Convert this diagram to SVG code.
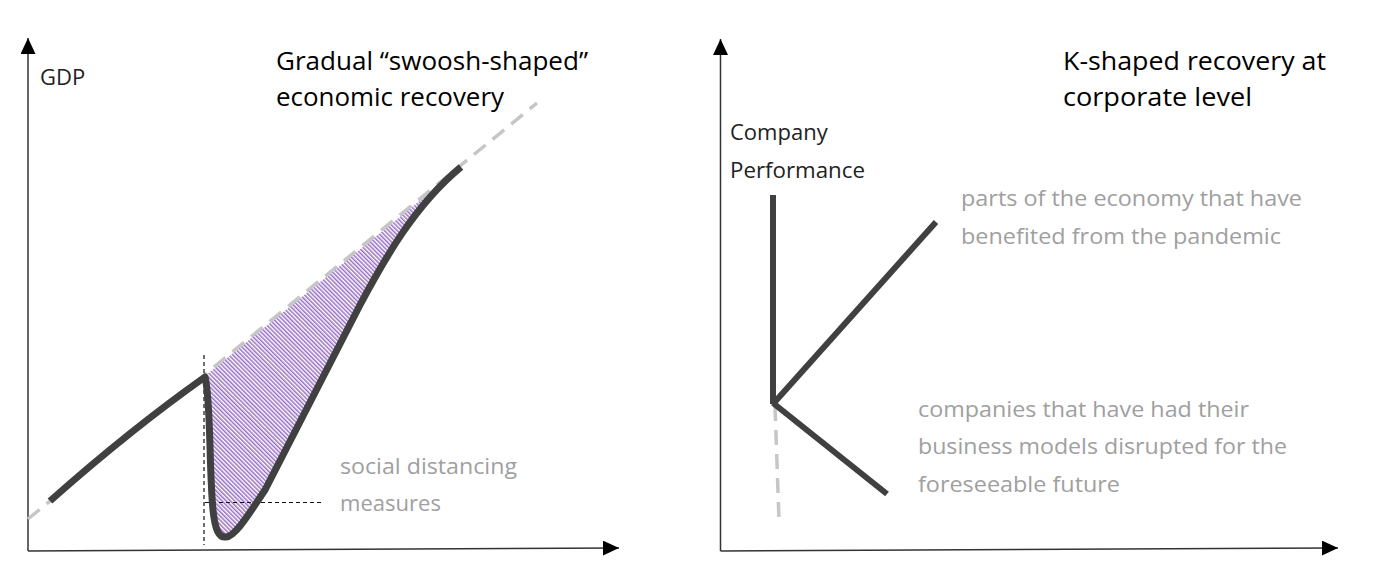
<svg xmlns="http://www.w3.org/2000/svg" width="1398" height="585" viewBox="0 0 1398 585">
<style>
.axis{stroke:#333;stroke-width:1.5;fill:none;marker-end:url(#arrow)}
.thick{stroke:#404040;stroke-width:7;fill:none;stroke-linecap:butt;stroke-linejoin:round}
.kline{stroke:#404040;stroke-width:6;fill:none;stroke-linecap:butt;stroke-linejoin:miter}
.trend{stroke:#c6c6c6;stroke-width:3.5;fill:none;stroke-dasharray:15 9}
.guide{stroke:#111;stroke-width:1.2;fill:none;stroke-dasharray:4 3}
.title{font-family:"Open Sans","DejaVu Sans",sans-serif;font-size:26px;fill:#000}
.label{font-family:"Open Sans","DejaVu Sans",sans-serif;font-size:22px;fill:#222}
.note{font-family:"Open Sans","DejaVu Sans",sans-serif;font-size:22px;fill:#a0a0a0}
</style>
<defs>
<marker id="arrow" viewBox="0 0 16 15" refX="16" refY="7.5" markerWidth="16" markerHeight="15" markerUnits="userSpaceOnUse" orient="auto">
<path d="M0,0 L16,7.5 L0,15 z" fill="#000"/>
</marker>
<pattern id="hatch" width="3" height="3" patternUnits="userSpaceOnUse" patternTransform="rotate(-45)">
<rect width="3" height="3" fill="#fff"/>
<line x1="0.8" y1="0" x2="0.8" y2="3" stroke="#7c48b4" stroke-width="1.2"/>
</pattern>
</defs>
<rect width="1398" height="585" fill="#fff"/>

<g id="left-chart">
  <g id="left-axes">
    <line class="axis" x1="28" y1="551" x2="28" y2="38"/>
    <line class="axis" x1="28" y1="551" x2="619" y2="548"/>
  </g>
  <g id="hatch-area">
    <path d="M205,377 C211,400 209,470 213,510 C215,530 219,538 226,537 C236,536 250,512 265,490 L360,305 C385,258 415,205 461,167 L205,376 Z" fill="url(#hatch)"/>
  </g>
  <g id="trend-line">
    <line class="trend" x1="28" y1="519" x2="537" y2="103"/>
  </g>
  <g id="guides">
    <line class="guide" x1="204" y1="355" x2="204" y2="545"/>
    <line class="guide" x1="205" y1="502.5" x2="324" y2="502.5"/>
  </g>
  <g id="gdp-curve">
    <path class="thick" d="M50,501 Q130,430 205,377 C211,400 209,470 213,510 C215,530 219,538 226,537 C236,536 250,512 265,490 L360,305 C385,258 415,205 461,167"/>
  </g>
  <g id="left-texts">
    <text class="label" x="40" y="85">GDP</text>
    <text class="title" x="276" y="70" textLength="312" lengthAdjust="spacingAndGlyphs">Gradual “swoosh-shaped”</text>
    <text class="title" x="276" y="106" textLength="228" lengthAdjust="spacingAndGlyphs">economic recovery</text>
    <text class="note" x="340" y="474" textLength="177" lengthAdjust="spacingAndGlyphs">social distancing</text>
    <text class="note" x="340" y="511" textLength="101" lengthAdjust="spacingAndGlyphs">measures</text>
  </g>
</g>

<g id="right-chart">
  <g id="right-axes">
    <line class="axis" x1="720.5" y1="551" x2="720.5" y2="39"/>
    <line class="axis" x1="720.5" y1="551" x2="1338" y2="548"/>
  </g>
  <g id="k-base">
    <line class="trend" x1="775" y1="406" x2="779" y2="520"/>
  </g>
  <g id="k-shape">
    <path class="kline" d="M773,195 L773,404"/>
    <path class="kline" d="M773,404 L936,222"/>
    <path class="kline" d="M773,403 L887,494"/>
  </g>
  <g id="right-texts">
    <text class="title" x="1063" y="70" textLength="263" lengthAdjust="spacingAndGlyphs">K-shaped recovery at</text>
    <text class="title" x="1063" y="106" textLength="189" lengthAdjust="spacingAndGlyphs">corporate level</text>
    <text class="label" x="730" y="140">Company</text>
    <text class="label" x="730" y="178" textLength="135" lengthAdjust="spacingAndGlyphs">Performance</text>
    <text class="note" x="961" y="206" textLength="341" lengthAdjust="spacingAndGlyphs">parts of the economy that have</text>
    <text class="note" x="961" y="244" textLength="320" lengthAdjust="spacingAndGlyphs">benefited from the pandemic</text>
    <text class="note" x="918" y="417" textLength="331" lengthAdjust="spacingAndGlyphs">companies that have had their</text>
    <text class="note" x="918" y="454" textLength="369" lengthAdjust="spacingAndGlyphs">business models disrupted for the</text>
    <text class="note" x="918" y="492" textLength="202" lengthAdjust="spacingAndGlyphs">foreseeable future</text>
  </g>
</g>
</svg>
